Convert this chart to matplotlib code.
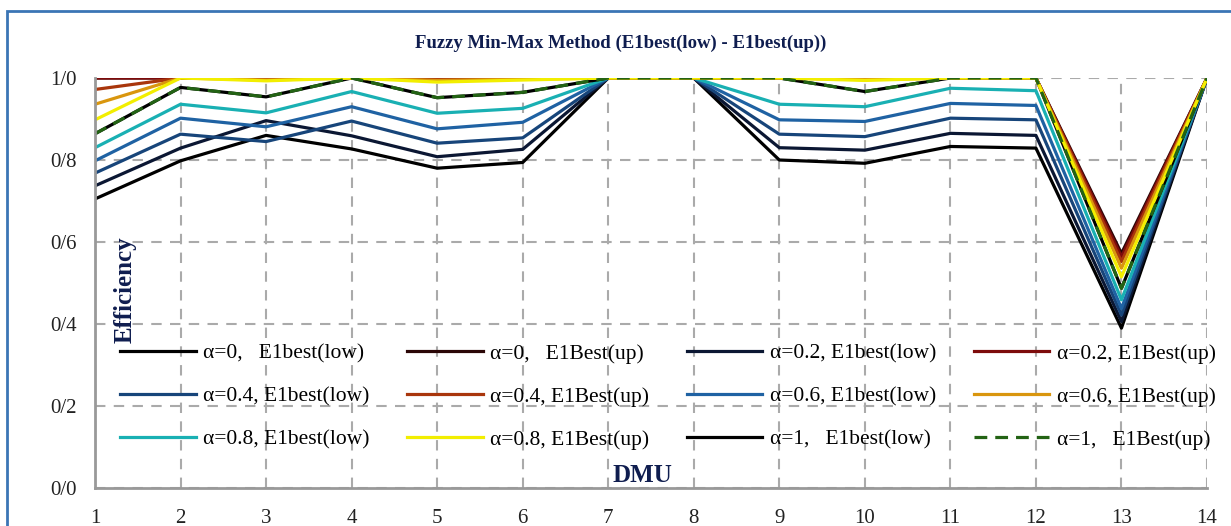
import matplotlib.pyplot as plt
from matplotlib.patches import Rectangle

plt.rcParams['font.family'] = ['Liberation Serif', 'DejaVu Serif']

# --- data ---
dmu = list(range(1, 15))
alphas = ['0', '0.2', '0.4', '0.6', '0.8', '1']

low_0 = [0.705, 0.798, 0.860, 0.827, 0.780, 0.794, 1.0, 1.0, 0.800, 0.792, 0.833, 0.829, 0.390, 1.0]
low_02 = [0.737, 0.829, 0.896, 0.859, 0.808, 0.826, 1.0, 1.0, 0.830, 0.824, 0.865, 0.860, 0.406, 1.0]
low_04 = [0.768, 0.863, 0.845, 0.895, 0.841, 0.854, 1.0, 1.0, 0.863, 0.857, 0.902, 0.898, 0.422, 1.0]
low_06 = [0.798, 0.902, 0.881, 0.930, 0.876, 0.892, 1.0, 1.0, 0.898, 0.894, 0.938, 0.933, 0.438, 1.0]
low_08 = [0.830, 0.936, 0.915, 0.967, 0.914, 0.926, 1.0, 1.0, 0.936, 0.930, 0.975, 0.969, 0.459, 1.0]
low_1 = [0.864, 0.977, 0.954, 1.0, 0.952, 0.965, 1.0, 1.0, 1.0, 0.967, 1.0, 1.0, 0.487, 1.0]

up_0 = [1.0, 1.0, 1.0, 1.0, 1.0, 1.0, 1.0, 1.0, 1.0, 1.0, 1.0, 1.0, 0.572, 1.0]
up_02 = [1.0, 1.0, 1.0, 1.0, 1.0, 1.0, 1.0, 1.0, 1.0, 1.0, 1.0, 1.0, 0.564, 1.0]
up_04 = [0.972, 1.0, 0.998, 1.0, 0.998, 1.0, 1.0, 1.0, 1.0, 0.998, 1.0, 1.0, 0.552, 1.0]
up_06 = [0.936, 1.0, 0.995, 1.0, 0.994, 0.997, 1.0, 1.0, 1.0, 0.996, 1.0, 1.0, 0.536, 1.0]
up_08 = [0.898, 1.0, 0.993, 1.0, 0.990, 0.995, 1.0, 1.0, 1.0, 0.994, 1.0, 1.0, 0.515, 1.0]
up_1 = [0.864, 0.977, 0.954, 1.0, 0.952, 0.965, 1.0, 1.0, 1.0, 0.967, 1.0, 1.0, 0.487, 1.0]

yticks = [0.0, 0.2, 0.4, 0.6, 0.8, 1.0]
ytick_labels = ['0/0', '0/2', '0/4', '0/6', '0/8', '1/0']

lows = [low_0, low_02, low_04, low_06, low_08, low_1]
ups = [up_0, up_02, up_04, up_06, up_08, up_1]
low_colors = ['#000000', '#0b1733', '#17457a', '#1f62a3', '#19b0b3', '#000000']
up_colors = ['#2a0606', '#7d0b0b', '#a9360c', '#d9960e', '#f2ee00', '#236314']
navy = '#0f1d4f'

fig = plt.figure(figsize=(12.31, 5.26), dpi=100)
ax = fig.add_axes([95 / 1231, 38 / 526, 1112 / 1231, 410 / 526])

# outer blue frame
fig.patches.append(Rectangle((7 / 1231, -0.05), 1.1, 1 - 11 / 526 + 0.05,
                             transform=fig.transFigure, fill=False,
                             edgecolor='#3b75b5', linewidth=2))

handles = {}
for a, ys, c in zip(alphas, lows, low_colors):
    sp = ',   ' if a in ('0', '1') else ', '
    h, = ax.plot(dmu, ys, '-', color=c, linewidth=2.3,
                 label='α=' + a + sp + 'E1best(low)')
    handles[('low', a)] = h
for a, ys, c in zip(alphas, ups, up_colors):
    sp = ',   ' if a in ('0', '1') else ', '
    ls = (0, (4, 2.5)) if a == '1' else '-'
    h, = ax.plot(dmu, ys, linestyle=ls, color=c, linewidth=2.3,
                 label='α=' + a + sp + 'E1Best(up)')
    handles[('up', a)] = h

ax.set_xlim(1, 14)
ax.set_ylim(0, 1)
ax.set_xticks(dmu)
ax.set_yticks(yticks)
ax.set_yticklabels(ytick_labels)
ax.tick_params(length=0, labelsize=15, colors='#222222')
ax.tick_params(axis='x', pad=15)
ax.tick_params(axis='y', pad=13)
ax.grid(True, color='#aaaaaa', linestyle=(0, (5, 4)), linewidth=1.5)
for s in ['top', 'right']:
    ax.spines[s].set_visible(False)
for s in ['left', 'bottom']:
    ax.spines[s].set_color('#999999')
    ax.spines[s].set_linewidth(2)

# legend: 4 columns filled row-wise in the reference
order = [('low', '0'), ('low', '0.4'), ('low', '0.8'),
         ('up', '0'), ('up', '0.4'), ('up', '0.8'),
         ('low', '0.2'), ('low', '0.6'), ('low', '1'),
         ('up', '0.2'), ('up', '0.6'), ('up', '1')]
hs = [handles[k] for k in order]
ax.legend(hs, [h.get_label() for h in hs], ncol=4, frameon=False,
          loc='upper left', bbox_to_anchor=(0.013, 0.378), borderpad=0,
          fontsize=15.5, handlelength=3.5, handletextpad=0.35,
          columnspacing=1.75, labelspacing=1.06)

ax.text(0.027, 0.483, 'Efficiency', transform=ax.transAxes, rotation=90,
        ha='center', va='center', fontsize=18, fontweight='bold', color=navy)
ax.text(0.492, 0.03, 'DMU', transform=ax.transAxes, ha='center', va='center',
        fontsize=18, fontweight='bold', color=navy)
fig.text(0.504, 0.918, 'Fuzzy Min-Max Method (E1best(low) - E1best(up))',
         ha='center', va='center', fontsize=13.5, fontweight='bold', color=navy)

fig.savefig('out.png', dpi=100)
